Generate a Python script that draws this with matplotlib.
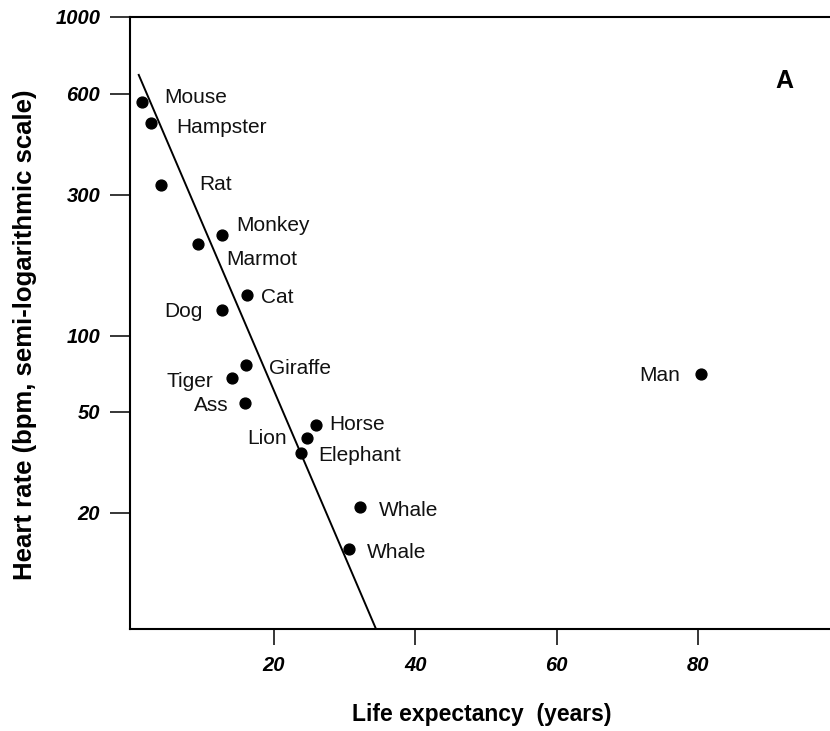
import numpy as np
import matplotlib
matplotlib.use("Agg")
import matplotlib.pyplot as plt

# ---------------- data ----------------
animals = ["Mouse", "Hampster", "Rat", "Monkey", "Marmot", "Cat", "Dog",
           "Giraffe", "Tiger", "Ass", "Horse", "Lion", "Elephant",
           "Whale", "Whale", "Man"]
life_years = [1.3, 2.6, 4.0, 12.7, 9.3, 16.2, 12.6,
              16.1, 14.1, 15.9, 25.9, 24.7, 23.8,
              32.2, 30.6, 80.4]
heart_bpm = [567, 491, 321, 220, 204, 137, 122,
             76.5, 68, 54, 44.4, 39.6, 34.3,
             21.1, 14.4, 70.9]
trend_years = [0.8, 34.4]
trend_bpm = [685, 7.0]
x_ticks = [20, 40, 60, 80]
y_ticks = [20, 50, 100, 300, 600, 1000]
y_tick_labels = ["20", "50", "100", "300", "600", "1000"]

# ---------------- layout / style ----------------
plt.rcParams["font.family"] = ["Liberation Sans", "DejaVu Sans"]

W, H = 830, 731
fig = plt.figure(figsize=(W / 100, H / 100), dpi=100)

# semi-log axis of the original drawing (tick spacing of the printed figure)
tick_px = {20: 513, 50: 412, 100: 336, 300: 195, 600: 94, 1000: 17}
k_log = np.log10(np.array(sorted(tick_px)))
k_px = np.array([tick_px[v] for v in sorted(tick_px)], dtype=float)
s_lo = (k_px[0] - k_px[1]) / (k_log[1] - k_log[0])
s_hi = (k_px[-2] - k_px[-1]) / (k_log[-1] - k_log[-2])
knot_log = np.concatenate([[-3.0], k_log, [6.0]])
knot_px = np.concatenate([[k_px[0] + s_lo * (k_log[0] + 3.0)], k_px,
                          [k_px[-1] - s_hi * (6.0 - k_log[-1])]])


def fwd(v):
    v = np.asarray(v, dtype=float)
    lv = np.log10(np.clip(v, 1e-3, 1e6))
    return -np.interp(lv, knot_log, knot_px)


def inv(d):
    d = np.asarray(d, dtype=float)
    return 10 ** np.interp(d, -knot_px, knot_log)


x0_px = 132.7
px_per_year = 7.067
ax_left, ax_right = 130.0, x0_px + 100 * px_per_year
ax_top, ax_bottom = 17.0, 628.5
ax = fig.add_axes([ax_left / W, 1 - ax_bottom / H,
                   (ax_right - ax_left) / W, (ax_bottom - ax_top) / H])
ax.set_yscale("function", functions=(fwd, inv))
ax.set_xlim((ax_left - x0_px) / px_per_year, 100)
ax.set_ylim(7.0, 1000)

ax.plot(trend_years, trend_bpm, color="black", lw=1.4, solid_capstyle="butt")
ax.plot(life_years, heart_bpm, "o", color="black", ms=7.8, mec="black")

label_offsets = [(22, 1, "left"), (25, 10, "left"), (38, 5, "left"),
                 (14, -4, "left"), (28, 21, "left"), (14, 8, "left"),
                 (-19, 7, "right"), (23, 9, "left"), (-19, 9, "right"),
                 (-16, 8, "right"), (14, 5, "left"), (-20, 6, "right"),
                 (17, 8, "left"), (19, 9, "left"), (18, 9, "left"),
                 (-21, 7, "right")]
for name, xv, yv, (dx, dy, ha) in zip(animals, life_years, heart_bpm, label_offsets):
    ax.annotate(name, (xv, yv), xytext=(dx, -dy), textcoords="offset pixels",
                ha=ha, va="baseline", fontsize=15, color="#111111")

ax.set_xticks(x_ticks)
ax.set_xticklabels([str(t) for t in x_ticks])
ax.set_yticks(y_ticks)
ax.set_yticklabels(y_tick_labels)
ax.yaxis.set_minor_locator(matplotlib.ticker.NullLocator())
ax.xaxis.set_minor_locator(matplotlib.ticker.NullLocator())
ax.tick_params(axis="y", direction="out", length=14.4, width=1.1, pad=7,
               labelsize=14.5)
ax.tick_params(axis="x", direction="out", length=11.5, width=1.1, pad=8,
               labelsize=14.5)
for lab in ax.get_xticklabels() + ax.get_yticklabels():
    lab.set_fontweight("bold")
    lab.set_fontstyle("italic")

for side in ("left", "top", "bottom"):
    ax.spines[side].set_linewidth(1.5)
ax.spines["right"].set_visible(False)

fig.text(482 / W, 1 - 721 / H, "Life expectancy  (years)", ha="center",
         va="baseline", fontsize=16.5, fontweight="bold")
fig.text(25 / W, 1 - 335 / H, "Heart rate (bpm, semi-logarithmic scale)",
         rotation=90, ha="center", va="center", fontsize=18.5, fontweight="bold")
fig.text(784 / W, 1 - 88.3 / H, "A", ha="center", va="baseline",
         fontsize=18, fontweight="bold")

fig.savefig("out.png", dpi=100)
